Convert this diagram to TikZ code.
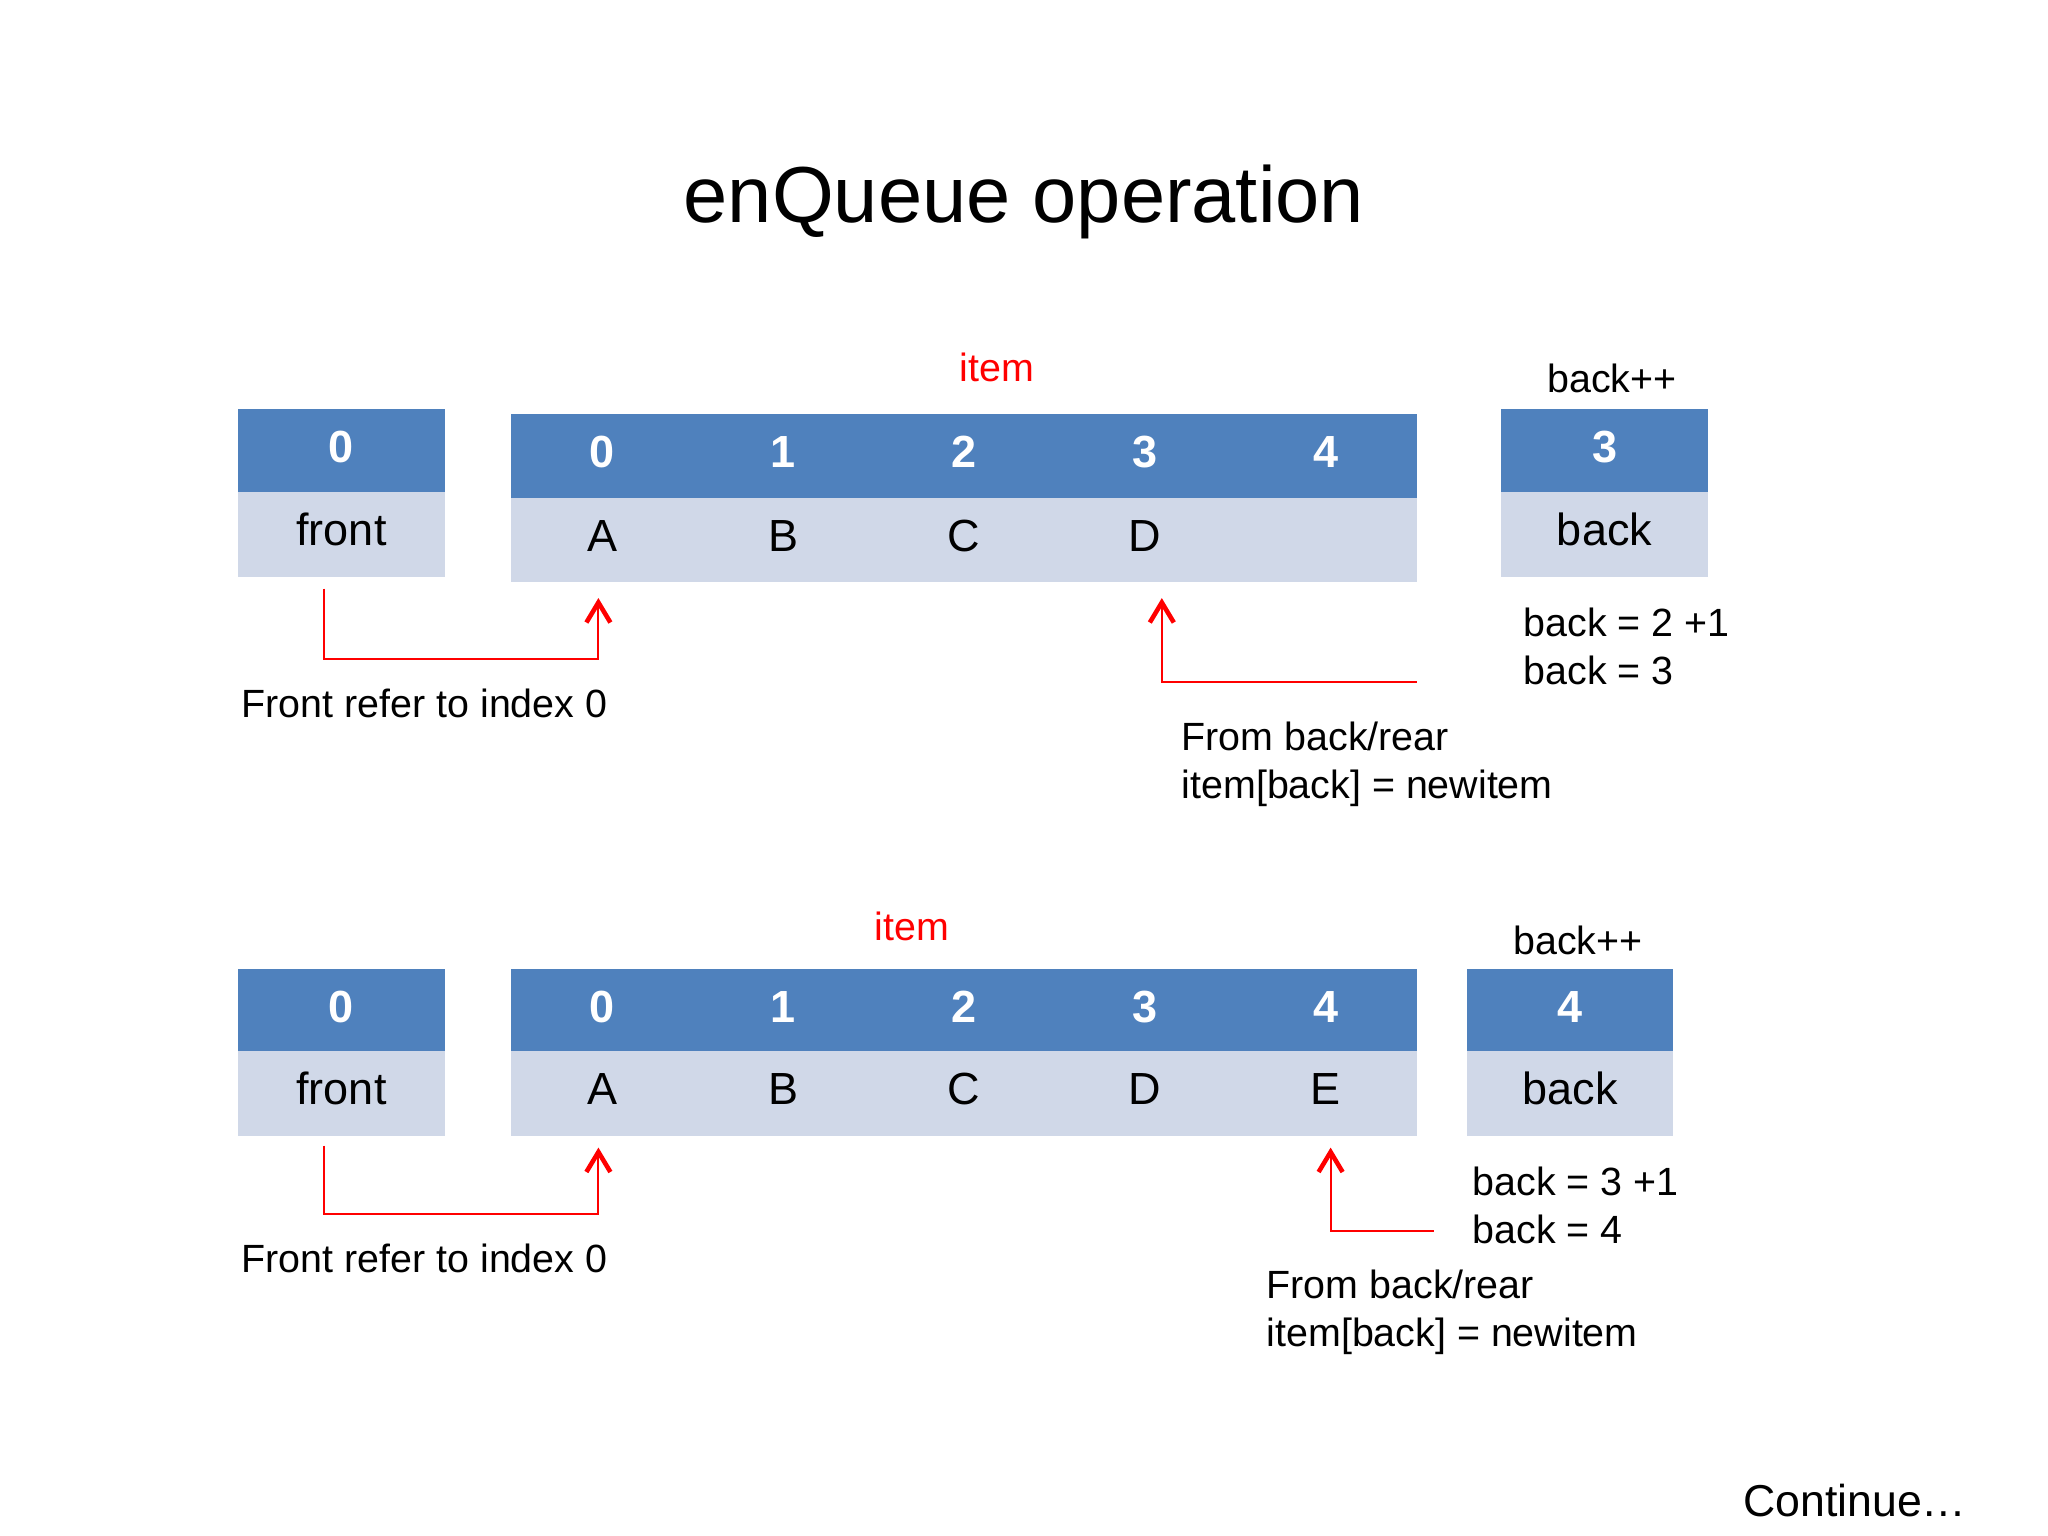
\documentclass[tikz,border=0pt]{standalone}
\usepackage{fontspec}
\setmainfont{Liberation Sans}
\usetikzlibrary{arrows.meta}
\definecolor{cellblue}{HTML}{4F81BD}
\definecolor{celllight}{HTML}{D0D8E8}
\tikzset{
  hd/.style={fill=cellblue,draw=cellblue,line width=0.3pt,text=white,inner sep=0,minimum height=0.83cm,text height=9.3pt,text depth=2.9pt,font=\fontsize{12.8}{15}\selectfont\bfseries},
  vl/.style={fill=celllight,draw=celllight,line width=0.3pt,inner sep=0,minimum height=0.83cm,text height=9.3pt,text depth=2.9pt,font=\fontsize{12.8}{15}\selectfont},
  note/.style={inner sep=0,font=\fontsize{11.2}{13.7}\selectfont,align=left},
  ptr/.style={red,line width=0.6pt,-{Straight Barb[length=0.2cm,width=0.24cm,line width=1.3pt]}}
}
\begin{document}
\begin{tikzpicture}[x=0.01cm,y=-0.01cm]
\useasboundingbox[fill=white](0,0)rectangle(2048,1536);
\node(title) at (1024,202){\fontsize{22.6}{27}\selectfont enQueue operation};
% first enqueue: D goes in at index 3
\node[hd,minimum width=2.05cm](f1h) at (341.5,451){0};
\node[vl,minimum width=2.05cm](f1v) at (341.5,534.5){front};
\foreach \i/\v in {0/A,1/B,2/C,3/D,4/{}}{
  \node[hd,minimum width=1.808cm](a1h\i) at (602.4+180.8*\i,456.5){\i};
  \node[vl,minimum width=1.808cm](a1v\i) at (602.4+180.8*\i,540){\v};
}
\node[note,text=red](item1) at (997,367){item};
\node[note](inc1) at (1612,378){back++};
\node[hd,minimum width=2.05cm](b1h) at (1604.5,451){3};
\node[vl,minimum width=2.05cm](b1v) at (1604.5,534.5){back};
\node[note,anchor=west](calc1) at (1523,646.5){back = 2 +1\\back = 3};
\node[note,anchor=west](ftxt1) at (241,703){Front refer to index 0};
\node[note,anchor=west](btxt1) at (1181,764){From back/rear\\item[back] = newitem};
\draw[ptr]([xshift=-0.175cm,yshift=-0.12cm]f1v.south)--++(0,70)-|([xshift=-0.04cm,yshift=-0.16cm]a1v0.south);
\draw[ptr]([yshift=-1cm]a1v4.south east)-|([xshift=0.17cm,yshift=-0.16cm]a1v3.south);
% second enqueue: E goes in at index 4
\node[hd,minimum width=2.05cm](f2h) at (341.5,1011){0};
\node[vl,minimum width=2.05cm](f2v) at (341.5,1093.5){front};
\foreach \i/\v in {0/A,1/B,2/C,3/D,4/E}{
  \node[hd,minimum width=1.808cm](a2h\i) at (602.4+180.8*\i,1011){\i};
  \node[vl,minimum width=1.808cm](a2v\i) at (602.4+180.8*\i,1093.5){\v};
}
\node[note,text=red](item2) at (912,926){item};
\node[note](inc2) at (1578,940){back++};
\node[hd,minimum width=2.05cm](b2h) at (1570,1011){4};
\node[vl,minimum width=2.05cm](b2v) at (1570,1093.5){back};
\node[note,anchor=west](calc2) at (1472,1205.5){back = 3 +1\\back = 4};
\node[note,anchor=west](ftxt2) at (241,1258){Front refer to index 0};
\node[note,anchor=west](btxt2) at (1266,1312){From back/rear\\item[back] = newitem};
\draw[ptr]([xshift=-0.175cm,yshift=-0.1cm]f2v.south)--++(0,68)-|([xshift=-0.04cm,yshift=-0.12cm]a2v0.south);
\draw[ptr]([xshift=0.17cm,yshift=-0.95cm]a2v4.south east)-|([xshift=0.05cm,yshift=-0.12cm]a2v4.south);
\node[anchor=east,font=\fontsize{12.7}{15}\selectfont](cont) at (1979,1501){Continue…};
\end{tikzpicture}
\end{document}
